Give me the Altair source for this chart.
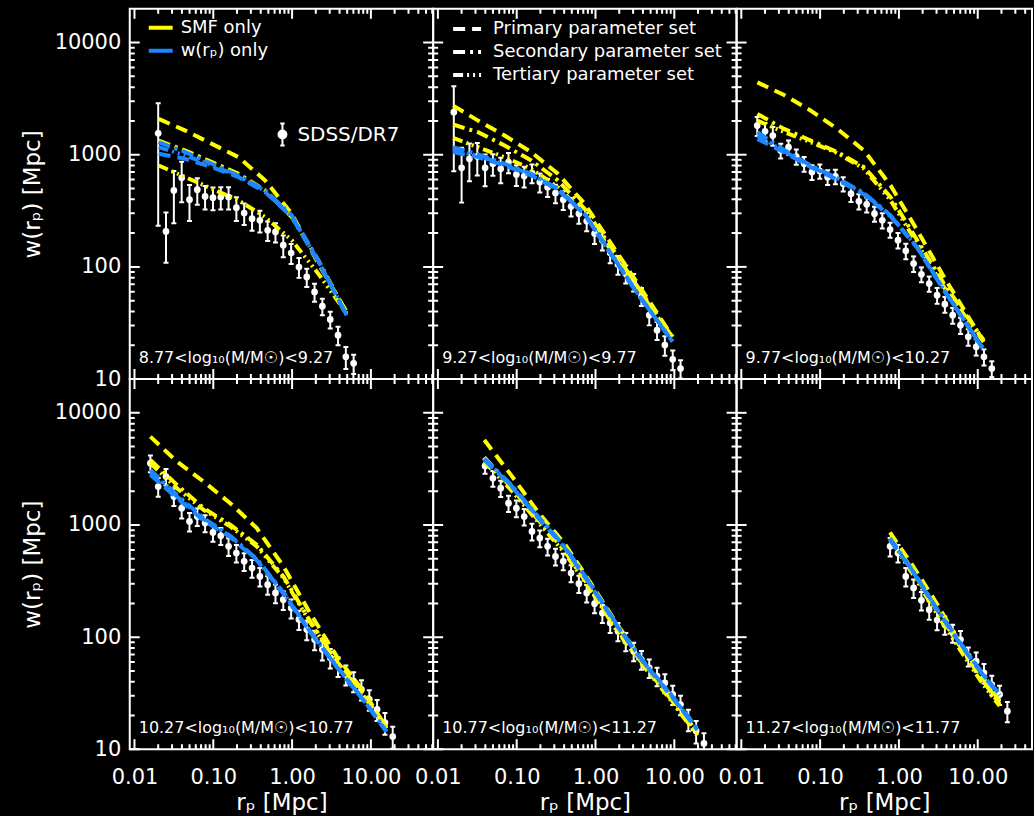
import altair as alt
import pandas as pd

# ---------------- data ----------------
RP_BINS = [0.01592, 0.02000, 0.02512, 0.03162, 0.03972, 0.04989, 0.06266, 0.07870,
           0.09908, 0.1245, 0.1563, 0.1963, 0.2466, 0.3105, 0.3899, 0.4898, 0.6152,
           0.7727, 0.9727, 1.222, 1.535, 1.928, 2.421, 3.048, 3.828, 4.808, 6.039,
           7.586, 9.550, 11.99, 15.07, 18.92, 23.77]

MASS_BINS = ["8.77<log₁₀(M/M☉)<9.27", "9.27<log₁₀(M/M☉)<9.77", "9.77<log₁₀(M/M☉)<10.27",
             "10.27<log₁₀(M/M☉)<10.77", "10.77<log₁₀(M/M☉)<11.27", "11.27<log₁₀(M/M☉)<11.77"]

SDSS_FIRST_BIN = [1, 0, 0, 0, 4, 17]
SDSS_W = [
    [1553, 207, 480, 622, 397, 488, 425, 414, 419, 419, 337, 302, 269, 260, 212, 205, 156, 133,
     99.8, 81.3, 59.8, 44.6, 34.0, 24.6, 15.8, 13.8],
    [2393, 764, 919, 964, 764, 830, 748, 859, 667, 645, 686, 570, 514, 455, 397, 346, 298, 256,
     198, 173, 133, 105, 87, 73.4, 54.8, 37.1, 27.3, 20.1, 15.0, 12.4],
    [1820, 1619, 1482, 1090, 1167, 964, 830, 700, 714, 631, 640, 551, 449, 384, 361, 298, 260,
     215, 173, 139, 107, 85.9, 71.0, 55.9, 46.5, 37.1, 30.2, 23.8, 19.4, 15.8, 12.4],
    [3556, 2203, 2705, 1795, 1413, 1076, 1191, 1040, 859, 802, 645, 562, 474, 413, 348, 294, 248,
     216, 182, 144, 117, 95.3, 77.6, 65.5, 55.2, 46.5, 40.5, 34.2, 27.9, 22.7, 17.3, 13.0],
    [3365, 2612, 2128, 1565, 1413, 1191, 877, 764, 645, 525, 474, 373, 300, 248, 199, 164, 134,
     113, 92, 75, 63.2, 53.3, 45.0, 39.2, 30.9, 25.1, 18.5, 14.6, 11.3],
    [645, 562, 348, 275, 213, 176, 142, 129, 109, 95.3, 67.7, 61.1, 48.1, 37.8, 30.9, 21.9],
]
SDSS_SIGMA = [
    [1320, 98, 235, 245, 140, 130, 100, 95, 95, 95, 80, 66, 59, 57, 42, 40, 34, 27, 20, 15, 11,
     7.5, 5.8, 4.6, 3.5, 2.7],
    [1680, 390, 340, 310, 240, 180, 190, 175, 140, 135, 130, 110, 95, 85, 75, 65, 55, 48, 38, 33,
     25, 20, 16, 13, 10, 7, 5, 4, 3, 2.3],
    [350, 300, 280, 165, 170, 150, 125, 105, 105, 95, 95, 80, 70, 60, 55, 45, 40, 33, 27, 22, 17,
     13, 11, 9, 7.5, 6, 5, 4, 3.2, 2.6, 2.0],
    [610, 420, 450, 320, 270, 200, 210, 180, 150, 140, 115, 100, 85, 75, 65, 55, 47, 41, 35, 28,
     23, 19, 15.5, 13, 11, 9.5, 8.2, 7, 5.8, 4.8, 3.8, 2.9],
    [500, 420, 350, 260, 240, 200, 150, 130, 110, 90, 80, 65, 52, 44, 36, 30, 25, 21, 17, 14, 12,
     10, 8.5, 7.5, 6, 5, 4, 3.3, 2.6],
    [120, 100, 65, 52, 40, 33, 27, 24, 20, 18, 13, 12, 9.5, 7.5, 6, 4.5],
]

MODEL_RP = [
    [0.0203, 0.0442, 0.096, 0.209, 0.455, 0.99, 2.15, 4.92],
    [0.0156, 0.0323, 0.0703, 0.153, 0.333, 0.726, 1.578, 3.436, 9.53],
    [0.0160, 0.0349, 0.0760, 0.1656, 0.3606, 0.7834, 1.706, 3.715, 11.91],
    [0.0159, 0.0346, 0.0753, 0.164, 0.356, 0.776, 1.69, 3.67, 8.0, 15.8],
    [0.0388, 0.0845, 0.184, 0.400, 0.871, 1.90, 4.13, 8.99, 19.6],
    [0.769, 1.517, 2.99, 5.93, 11.7, 19.0],
]
SMF_PRIMARY = [
    [2084, 1641, 1250, 951, 590, 298, 107, 39.7],
    [2741, 2014, 1482, 1054, 676, 366, 161, 71, 23.8],
    [4416, 3410, 2472, 1698, 1090, 532, 212, 81.5, 21.5],
    [6137, 3673, 2438, 1565, 937, 428, 164, 67.7, 33.0, 15.6],
    [5727, 2799, 1321, 690, 304, 129, 59.0, 29.8, 14.1],
    [859, 428, 202, 89.0, 43.4, 26.9],
]
SMF_SECONDARY = [
    [1337, 1090, 859, 676, 481, 278, 114.5, 38.4],
    [1858, 1588, 1208, 889, 590, 330, 150, 66.3, 23.5],
    [2312, 1698, 1337, 1054, 775, 419, 173, 71, 22.2],
    [3800, 2280, 1413, 1005, 667, 348, 139, 61.1, 30.9, 15.6],
    [4018, 2173, 1127, 594, 269, 115, 56.0, 28.3, 13.3],
    [791, 386, 176, 83.1, 40.5, 25.2],
]
SMF_TERTIARY = [
    [802, 631, 497, 392, 278, 173, 87, 38.4],
    [1413, 1167, 951, 748, 514, 298, 141, 64.1, 23.0],
    [2014, 1588, 1294, 1033, 748, 392, 161, 66.3, 21.5],
    [3556, 2128, 1365, 971, 645, 337, 136, 59.8, 30.3, 15.3],
    [3673, 2056, 1076, 570, 262, 112, 54.5, 27.5, 13.2],
    [739, 361, 164, 77.6, 37.8, 24.3],
]
WRP_PRIMARY = [
    [1019, 919, 775, 631, 465, 278, 110.7, 37.1],
    [1054, 951, 802, 653, 488, 294, 129, 57, 21.5],
    [1383, 1054, 775, 598, 443, 282, 148, 61.9, 18.1],
    [2799, 1734, 1098, 780, 484, 244, 111, 54.5, 27.5, 14.3],
    [3802, 2234, 1175, 635, 288, 124, 58.2, 30.3, 14.9],
    [739, 378, 179, 87.7, 45.6, 30.3],
]
WRP_SECONDARY = [
    [1294, 1054, 830, 653, 481, 288, 114.5, 37.1],
    [1167, 1005, 830, 676, 497, 298, 131, 57.8, 21.5],
    [1588, 1105, 802, 618, 455, 288, 150, 62.8, 18.4],
    [3097, 1858, 1151, 802, 498, 251, 113, 55.2, 27.9, 14.5],
    [3908, 2296, 1208, 653, 296, 127, 59.8, 31.1, 15.3],
    [764, 386, 182, 90.2, 46.8, 30.9],
]
WRP_TERTIARY = [
    [1167, 985, 802, 640, 474, 282, 113, 37.1],
    [1105, 977, 818, 667, 493, 296, 130, 57.4, 21.5],
    [1482, 1076, 785, 607, 449, 286, 149, 62.4, 18.2],
    [2938, 1795, 1127, 791, 491, 248, 112, 54.8, 27.7, 14.5],
    [3855, 2265, 1191, 645, 292, 125, 59.0, 30.7, 15.1],
    [748, 384, 181, 89, 46.1, 30.7],
]

X_MAJOR = [0.01, 0.1, 1, 10]
X_MINOR = [0.02, 0.03, 0.04, 0.05, 0.06, 0.07, 0.08, 0.09,
           0.2, 0.3, 0.4, 0.5, 0.6, 0.7, 0.8, 0.9,
           2, 3, 4, 5, 6, 7, 8, 9, 20, 30, 40, 50, 60]
Y_MAJOR = [10, 100, 1000, 10000]
Y_MINOR = [20, 30, 40, 50, 60, 70, 80, 90, 200, 300, 400, 500, 600, 700, 800, 900,
           2000, 3000, 4000, 5000, 6000, 7000, 8000, 9000]

SOURCES = ["SMF only", "w(rₚ) only"]
SETS = ["Primary parameter set", "Secondary parameter set", "Tertiary parameter set"]

# ---------------- styling ----------------
W, H = 304, 371
X_MIN = 0.00871
X_MAX_FULL = 61.66          # full panel (304 px)
X_MAX_RIGHT = 48.8          # right column is cut by the window edge (296 px)
W_RIGHT = 296
Y_DOMAIN = [10, 20000]
FONT = "DejaVu Sans"
YELLOW = "#FFFF00"
BLUE = "#1E86FF"
DASHES = [[12, 7], [12, 5, 3, 5], [10, 4, 2, 4, 2, 4, 2, 4]]
SDSS_SYMBOL = ("M0,-1V1M-0.2,-1H0.2M-0.2,1H0.2"
               "M-0.36,0A0.36,0.36,0,1,0,0.36,0A0.36,0.36,0,1,0,-0.36,0Z")
AXIS_STYLE = dict(labelColor="white", titleColor="white", labelFont=FONT, titleFont=FONT,
                  labelFontSize=21, titleFontSize=23, titleFontWeight="normal",
                  ticks=False, tickSize=0, domain=False, grid=False, labelOverlap=False)

STROKE_LEGEND = alt.Legend(title=None, orient="none", legendX=17, legendY=7.5,
                           symbolType="stroke", symbolSize=576, symbolStrokeWidth=4,
                           labelColor="white", labelFont=FONT, labelFontSize=18,
                           labelLimit=500, labelOffset=6, rowPadding=0, clipHeight=23,
                           padding=0)
DASH_LEGEND = alt.Legend(title=None, orient="none", legendX=18, legendY=9,
                         symbolType="stroke", symbolSize=784, symbolStrokeWidth=4,
                         symbolStrokeColor="white",
                         labelColor="white", labelFont=FONT, labelFontSize=18,
                         labelLimit=500, labelOffset=10, rowPadding=0, clipHeight=22.5,
                         padding=0)
FILL_LEGEND = alt.Legend(title=None, orient="none", legendX=141, legendY=114,
                         symbolType=SDSS_SYMBOL, symbolSize=484,
                         symbolStrokeColor="white", symbolStrokeWidth=2,
                         symbolFillColor="white",
                         labelColor="white", labelFont=FONT, labelFontSize=20,
                         labelLimit=500, labelOffset=3, padding=0)


def sdss_frame(i):
    first = SDSS_FIRST_BIN[i]
    w = SDSS_W[i]
    s = SDSS_SIGMA[i]
    rp = RP_BINS[first:first + len(w)]
    return pd.DataFrame({
        "rp": rp, "w": w,
        "lo": [a - b for a, b in zip(w, s)],
        "hi": [a + b for a, b in zip(w, s)],
        "src": ["SDSS/DR7"] * len(w),
    })


def model_frame(i, src):
    arrays = ([SMF_PRIMARY, SMF_SECONDARY, SMF_TERTIARY] if src == SOURCES[0]
              else [WRP_PRIMARY, WRP_SECONDARY, WRP_TERTIARY])
    rows = []
    for name, arr in zip(SETS, arrays):
        for rp, w in zip(MODEL_RP[i], arr[i]):
            rows.append({"rp": rp, "w": w, "src": src, "set": name})
    return pd.DataFrame(rows)


def panel(i):
    row, col = divmod(i, 3)
    width = W_RIGHT if col == 2 else W
    x_max = X_MAX_RIGHT if col == 2 else X_MAX_FULL
    xa = (alt.Axis(values=X_MAJOR, format=".2f", title="rₚ [Mpc]", labelFlush=False,
                   labelPadding=17, titlePadding=4, **AXIS_STYLE)
          if row == 1 else None)
    ya = (alt.Axis(values=Y_MAJOR, format="d", title="w(rₚ) [Mpc]", labelPadding=9,
                   titlePadding=10, **AXIS_STYLE)
          if col == 0 else None)
    xs = alt.Scale(type="log", domain=[X_MIN, x_max], nice=False)
    ys = alt.Scale(type="log", domain=Y_DOMAIN, nice=False)

    def X(f):
        return alt.X(f, type="quantitative", scale=xs, axis=xa)

    def Y(f):
        return alt.Y(f, type="quantitative", scale=ys, axis=ya)

    layers = []
    # inward ticks on all four sides
    for vals, ln in ((X_MAJOR, 10), (X_MINOR, 5)):
        vis = [v for v in vals if v < x_max]
        layers.append(alt.Chart(pd.DataFrame({"rp": vis})).mark_rule(
            color="white", strokeWidth=2, strokeDash=[ln, H - 2 * ln, ln]).encode(
            x=X("rp"), y=alt.value(0), y2=alt.value(H)))
    for vals, ln in ((Y_MAJOR, 10), (Y_MINOR, 5)):
        dash = [ln, W - 2 * ln, ln] if col < 2 else [ln, 400]
        layers.append(alt.Chart(pd.DataFrame({"w": vals})).mark_rule(
            color="white", strokeWidth=2, strokeDash=dash).encode(
            y=Y("w"), x=alt.value(0), x2=alt.value(width)))

    sd = sdss_frame(i)
    layers.append(alt.Chart(sd).mark_rule(color="white", strokeWidth=2, clip=True).encode(
        x=X("rp"), y=Y("lo"), y2=alt.Y2("hi")))
    for f in ("lo", "hi"):
        layers.append(alt.Chart(sd).mark_point(shape="stroke", size=25, strokeWidth=2,
                                               color="white", opacity=1, clip=True).encode(
            x=X("rp"), y=Y(f)))
    layers.append(alt.Chart(sd).mark_point(filled=True, shape="circle", size=45, opacity=1,
                                           strokeWidth=0).encode(
        x=X("rp"), y=Y("w"),
        fill=alt.Fill("src:N", scale=alt.Scale(domain=["SDSS/DR7"], range=["white"]),
                      legend=FILL_LEGEND if i == 0 else None)))

    for src in SOURCES:
        layers.append(alt.Chart(model_frame(i, src)).mark_line(strokeWidth=4, clip=True).encode(
            x=X("rp"), y=Y("w"),
            stroke=alt.Stroke("src:N", scale=alt.Scale(domain=SOURCES, range=[YELLOW, BLUE]),
                              legend=STROKE_LEGEND if i == 0 else None),
            strokeDash=alt.StrokeDash("set:N", scale=alt.Scale(domain=SETS, range=DASHES),
                                      legend=DASH_LEGEND if i == 1 else None)))

    layers.append(alt.Chart(pd.DataFrame({"label": [MASS_BINS[i]]})).mark_text(
        align="left", baseline="alphabetic", color="white", fontSize=16, font=FONT).encode(
        x=alt.value(9), y=alt.value(355), text="label:N"))

    return alt.layer(*layers).properties(width=width, height=H)


chart = alt.concat(*[panel(i) for i in range(6)], columns=3, spacing=0, bounds="flush")
chart = chart.resolve_scale(x="independent", y="independent", stroke="independent",
                            strokeDash="independent", fill="independent")
chart = chart.properties(background="black",
                         padding={"left": 20, "top": 6, "right": 0, "bottom": 0})
chart = chart.configure_view(stroke="white", strokeWidth=2).configure_axis(
    labelColor="white", titleColor="white", labelFont=FONT, titleFont=FONT,
    labelFontSize=21, titleFontSize=23, titleFontWeight="normal")

chart.save("out.html", embed_options={"renderer": "svg", "actions": False})
